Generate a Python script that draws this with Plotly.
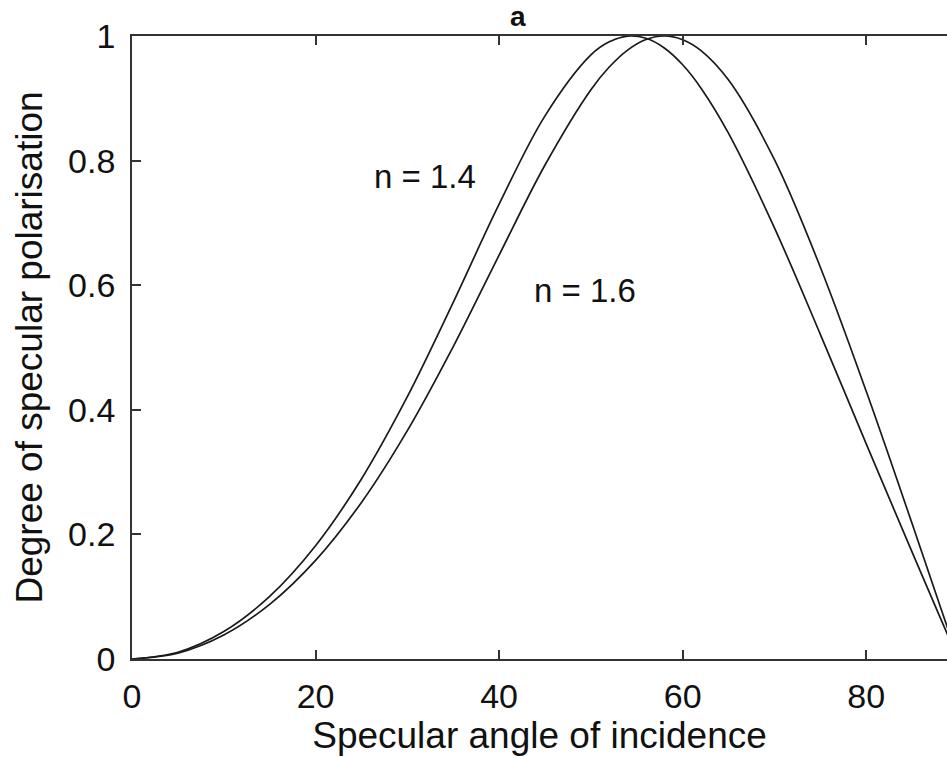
import plotly.graph_objects as go

angles = [0, 5, 10, 15, 20, 25, 30, 35, 40, 45, 50, 52, 54, 56, 58, 60, 62, 65, 70, 75, 80, 85, 88, 89, 90]
dop_n14 = [0, 0.0109, 0.0441, 0.1006, 0.1819, 0.2890, 0.4210, 0.5724, 0.7300, 0.8718, 0.9696, 0.9906,
           0.9997, 0.9963, 0.9808, 0.9538, 0.9163, 0.8437, 0.6921, 0.5211, 0.3454, 0.1715, 0.0684, 0.0343, 0]
dop_n16 = [0, 0.0095, 0.0385, 0.0877, 0.1583, 0.2513, 0.3666, 0.5015, 0.6484, 0.7929, 0.9138, 0.9502,
           0.9774, 0.9943, 1.0000, 0.9941, 0.9765, 0.9292, 0.8015, 0.6289, 0.4297, 0.2173, 0.0872, 0.0436, 0]
x_ticks = [0, 20, 40, 60, 80]
y_ticks = [0, 0.2, 0.4, 0.6, 0.8, 1]
y_tick_labels = ["0", "0.2", "0.4", "0.6", "0.8", "1"]

FONT = "Liberation Sans, Arial, sans-serif"

fig = go.Figure()
for name, vals in [("n = 1.4", dop_n14), ("n = 1.6", dop_n16)]:
    fig.add_trace(go.Scatter(x=angles, y=vals, mode="lines", name=name,
                             line=dict(color="#1a1a1a", width=1.7, shape="spline", smoothing=1.0),
                             showlegend=False, hoverinfo="skip"))

fig.add_annotation(x=31.9, y=0.775, text="n = 1.4", showarrow=False,
                   font=dict(family=FONT, size=33, color="#111"))
fig.add_annotation(x=49.4, y=0.592, text="n = 1.6", showarrow=False,
                   font=dict(family=FONT, size=33, color="#111"))
fig.add_annotation(xref="paper", yref="paper", x=(518 - 132) / 815, y=1.0, yanchor="bottom",
                   yshift=2, text="<b>a</b>", showarrow=False,
                   font=dict(family=FONT, size=28, color="#111"))

fig.update_layout(
    width=947, height=757,
    margin=dict(l=132, r=0, t=36, b=98, autoexpand=False),
    paper_bgcolor="white", plot_bgcolor="white",
    font=dict(family=FONT, color="#111"),
)
fig.update_xaxes(range=[0, 88.8], tickvals=x_ticks, ticks="inside", ticklen=9, tickwidth=1.5,
                 tickcolor="#333", showline=True, linecolor="#333", linewidth=1.8, mirror="ticks",
                 showgrid=False, zeroline=False, tickfont=dict(size=34, family=FONT),
                 ticklabelstandoff=6, automargin=False,
                 title=dict(text="Specular angle of incidence", font=dict(size=37, family=FONT), standoff=0))
fig.update_yaxes(range=[0, 1], tickvals=y_ticks, ticktext=y_tick_labels, ticks="inside", ticklen=9,
                 tickwidth=1.5, tickcolor="#333", showline=True, linecolor="#333", linewidth=1.8,
                 mirror=False, showgrid=False, zeroline=False, tickfont=dict(size=34, family=FONT),
                 ticklabelstandoff=8, automargin=False,
                 title=dict(text="Degree of specular polarisation", font=dict(size=37, family=FONT), standoff=14))

fig.write_html("out.html", config={"displayModeBar": False},
               post_script="document.body.style.margin='0';document.body.style.overflow='hidden';")
